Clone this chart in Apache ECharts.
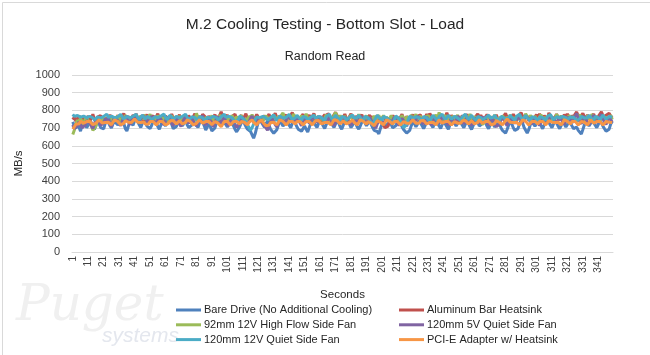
<!DOCTYPE html>
<html>
<head>
<meta charset="utf-8">
<script src="https://cdn.jsdelivr.net/npm/echarts@6/dist/echarts.min.js"></script>
<style>
html,body{margin:0;padding:0;background:#fff;}
#c{width:650px;height:355px;}
</style>
</head>
<body>
<div id="c"></div>
<script>
var seriesNames = [
  "Bare Drive (No Additional Cooling)",
  "Aluminum Bar Heatsink",
  "92mm 12V High Flow Side Fan",
  "120mm 5V Quiet Side Fan",
  "120mm 12V Quiet Side Fan",
  "PCI-E Adapter w/ Heatsink"
];
var seriesColors = ["#4F81BD", "#C0504D", "#9BBB59", "#8064A2", "#4BACC6", "#F79646"];

var bareDrive = [
735,712,698,721,706,683,715,741,728,702,
719,744,731,708,692,716,738,725,703,711,
696,727,748,733,714,701,723,739,745,718,
707,731,752,726,697,684,712,736,729,716,
741,758,737,719,704,728,747,733,711,722,
698,715,739,751,734,709,693,718,742,727,
712,736,756,741,722,697,686,709,733,748,
726,713,730,744,719,703,694,717,740,732,
716,704,729,751,738,714,689,699,723,708,
684,673,701,732,747,727,713,735,743,721,
706,723,741,736,712,692,679,683,708,729,
744,727,709,694,703,681,662,643,668,702,
731,748,733,719,705,726,738,714,693,682,
671,668,691,718,743,732,711,724,749,734,
716,702,727,743,728,707,692,703,683,687,
712,693,678,704,729,747,736,717,703,726,
744,731,712,698,721,739,753,736,718,704,
724,743,729,708,693,716,738,757,741,723,
703,717,739,727,707,694,712,733,748,731,
713,728,744,722,703,687,694,681,667,697,
721,738,726,708,716,739,731,702,691,713,
734,749,732,707,692,683,672,662,687,714,
738,726,707,722,744,734,713,697,716,738,
753,736,718,703,727,743,729,712,698,721,
739,731,708,693,717,738,748,729,712,726,
743,734,716,702,722,744,727,707,692,714,
738,752,734,712,701,726,743,731,711,697,
717,739,728,706,721,743,729,702,687,677,
672,692,718,738,724,702,687,676,697,723,
744,729,703,688,672,691,719,738,729,711,
726,743,734,712,697,719,739,752,733,716,
702,724,743,729,711,697,716,738,724,706,
721,743,734,712,697,691,706,687,676,666,
692,719,739,731,712,726,744,733,716,702,
721,743,729,711,696,682,671,694,723,738
];
var aluminumBar = [
748,761,739,755,772,744,758,736,763,751,
769,742,757,778,749,736,762,754,771,745,
733,758,767,744,776,752,738,761,749,773,
757,741,766,783,759,746,768,737,752,774,
762,781,756,743,769,751,739,764,777,748,
735,759,772,746,763,781,754,742,766,750,
771,747,738,762,779,755,741,767,753,776,
744,758,736,763,748,771,757,739,765,782,
758,745,769,752,778,787,761,743,768,754,
739,763,776,749,758,771,792,767,748,762,
774,751,742,766,758,779,746,737,761,773,
749,764,781,757,743,768,752,736,759,777,
762,746,733,758,771,747,764,779,752,740,
767,784,759,745,772,751,738,763,776,749,
757,773,788,764,747,769,756,741,765,779,
753,737,761,774,748,767,782,757,744,769,
752,738,764,777,758,783,769,746,761,775,
789,771,754,768,748,763,779,755,741,766,
781,758,744,769,753,738,762,776,751,767,
745,759,774,752,766,741,756,772,748,763,
736,718,702,693,711,738,757,771,754,766,
749,737,762,778,756,743,767,752,739,764,
776,753,741,768,759,774,748,736,761,779,
757,783,766,749,771,755,742,768,776,753,
739,764,786,762,748,773,757,744,769,758,
734,755,771,747,763,778,752,740,766,759,
745,769,781,758,774,752,739,763,777,761,
749,766,743,758,775,751,737,762,748,771,
783,761,747,768,754,779,763,741,757,772,
788,768,753,774,759,745,769,751,738,763,
777,754,781,762,748,771,757,742,786,769,
752,738,763,779,756,744,768,753,776,762,
781,759,746,772,758,779,791,767,754,771,
784,763,749,775,757,743,768,780,755,747,
766,779,792,771,756,773,762,784,769,758
];
var highFlowFan92 = [
664,688,723,746,731,755,738,722,749,762,
741,728,714,687,679,712,743,757,736,751,
763,742,729,756,768,747,733,759,744,771,
752,738,764,749,773,756,741,729,758,767,
744,762,735,751,769,748,776,753,739,763,
778,751,737,762,746,771,755,738,759,744,
766,749,731,757,772,746,763,739,752,768,
745,759,736,764,771,748,733,757,766,742,
784,761,747,769,752,738,763,749,731,756,
771,744,762,738,755,774,759,742,767,751,
736,761,748,772,753,739,766,745,758,773,
749,734,757,741,768,752,777,746,733,761,
769,747,764,738,756,771,748,762,737,754,
776,752,741,765,748,773,786,758,744,767,
752,738,764,779,747,761,735,757,771,746,
762,781,754,739,766,748,773,757,742,768,
749,765,738,754,777,751,736,762,749,771,
788,763,747,772,755,741,768,753,737,761,
774,748,763,739,756,778,752,766,743,757,
771,746,762,737,753,769,745,758,773,741,
756,772,749,764,738,755,771,747,762,751,
736,761,748,772,754,739,766,745,758,774,
747,763,779,752,741,768,749,735,762,756,
771,748,763,739,755,776,751,789,762,745,
758,773,747,764,738,753,769,746,761,774,
749,765,741,757,772,748,763,779,754,742,
767,751,739,763,745,721,712,738,757,749,
766,743,758,774,749,737,762,748,771,756,
741,764,752,776,748,763,738,757,771,746,
762,739,754,781,766,749,773,756,742,768,
753,738,762,776,748,764,741,757,772,746,
763,739,754,778,761,747,771,752,738,765,
749,773,758,742,767,751,736,762,777,748,
764,741,756,772,749,763,778,754,742,767,
752,738,761,776,748,765,741,757,772,749
];
var quietFan5V = [
718,697,689,712,736,721,702,694,717,743,
752,729,711,698,724,747,758,735,716,706,
729,754,742,763,725,708,737,759,767,744,
727,713,738,762,748,771,736,719,743,766,
774,752,737,726,749,772,781,758,741,729,
753,768,744,737,722,748,763,751,732,718,
742,766,749,771,728,714,738,757,741,723,
709,734,752,768,741,727,745,763,738,726,
712,739,761,747,772,729,716,738,756,741,
723,708,733,754,766,742,724,746,761,737,
728,713,739,758,742,721,704,698,727,751,
763,741,722,711,734,756,768,743,727,746,
762,771,748,728,714,701,688,712,737,752,
738,719,706,728,753,762,741,726,745,767,
776,751,733,722,744,761,748,729,713,738,
757,767,743,728,746,762,772,749,731,741,
766,776,752,734,723,745,763,748,729,714,
737,758,766,741,727,744,762,771,747,732,
716,738,757,743,726,745,767,778,753,736,
721,743,761,747,729,713,699,723,746,757,
738,721,739,757,768,743,726,745,762,748,
731,714,738,756,742,727,711,733,752,767,
748,732,749,768,776,752,734,722,743,762,
747,729,716,738,757,768,743,727,745,763,
771,748,731,717,739,758,742,724,746,767,
777,752,736,723,744,762,748,729,714,739,
758,767,742,726,745,763,773,749,731,716,
738,757,743,723,708,698,722,748,762,747,
729,714,739,757,766,742,726,744,762,772,
748,731,749,768,778,753,734,722,743,761,
747,728,716,738,758,768,742,727,744,767,
778,757,739,727,748,766,751,733,721,744,
762,772,748,729,747,768,783,759,738,724,
748,767,752,733,719,743,761,773,748,729,
747,766,778,752,734,721,744,762,748,733
];
var quietFan12V = [
778,766,757,771,779,762,753,768,774,759,
752,767,773,758,746,741,763,772,757,751,
766,774,779,761,752,768,773,759,748,762,
769,778,764,751,743,766,772,758,753,767,
774,779,761,748,759,773,762,751,766,775,
758,746,742,764,773,759,752,768,774,779,
761,747,758,773,762,749,741,766,772,758,
751,767,774,779,761,746,743,764,773,759,
752,742,765,773,758,747,738,761,772,757,
751,766,773,759,746,742,764,772,778,761,
752,767,774,758,746,732,721,748,768,773,
756,747,736,721,703,688,702,723,748,763,
773,759,751,767,774,758,746,738,759,768,
774,757,742,753,769,773,756,747,761,772,
778,762,748,738,759,773,761,752,743,766,
774,759,746,739,761,768,773,755,748,766,
773,758,751,743,765,774,779,761,747,759,
773,761,752,743,766,774,759,746,738,761,
768,774,756,748,761,773,759,751,742,766,
773,758,747,732,718,738,758,773,761,752,
743,766,773,758,751,742,733,722,748,768,
773,756,741,722,703,692,718,748,767,772,
756,747,764,773,759,751,742,766,772,758,
748,738,759,773,761,752,743,766,774,779,
761,747,759,773,762,751,741,766,772,758,
751,742,764,773,778,761,747,758,773,759,
752,743,766,773,759,747,738,758,768,774,
757,748,761,773,758,751,742,766,774,759,
747,738,759,773,761,752,743,766,772,778,
761,747,759,773,758,751,742,764,773,759,
748,742,764,773,759,751,743,766,772,777,
761,747,742,764,773,758,751,766,772,759,
747,742,763,773,761,752,743,733,753,767,
773,757,748,759,773,761,752,743,766,772,
759,747,758,773,762,751,743,766,772,761
];
var pcieAdapter = [
694,708,722,733,724,738,741,728,726,737,
746,738,727,719,716,728,736,747,738,729,
718,732,741,733,722,719,733,746,751,738,
727,719,714,727,742,746,733,723,732,741,
752,743,733,724,732,742,734,722,714,723,
737,746,738,728,718,727,737,747,738,727,
718,713,727,742,751,743,733,723,732,742,
733,723,718,732,747,751,738,728,718,714,
727,737,747,738,728,723,737,747,738,728,
719,727,737,742,728,718,708,722,737,747,
738,728,718,727,737,747,738,728,723,737,
742,733,723,718,732,742,747,733,723,718,
732,742,746,733,723,713,704,717,732,742,
733,723,718,732,747,752,738,728,718,727,
737,747,738,728,723,737,747,738,728,718,
727,737,747,738,728,718,727,742,752,743,
733,723,718,732,742,733,723,718,732,747,
756,743,733,723,732,742,733,723,718,732,
742,747,733,723,718,732,747,751,738,728,
723,737,742,728,718,713,727,742,747,733,
723,718,732,747,752,738,728,723,737,747,
738,728,718,727,737,742,728,718,727,737,
747,738,728,718,727,742,752,743,733,723,
718,732,742,733,723,718,732,747,738,728,
723,737,747,738,728,718,727,737,742,728,
718,727,742,752,743,733,723,732,742,733,
723,718,732,747,738,728,723,737,747,738,
728,718,713,727,742,747,733,723,718,732,
742,752,743,733,723,732,742,733,723,718,
732,747,752,738,728,718,727,737,747,738,
728,723,737,747,738,728,718,727,742,747,
733,723,732,742,733,723,718,732,747,752,
738,728,723,737,747,738,728,718,727,737,
742,733,723,718,732,747,738,728,723,737,
747,738,728,718,727,737,742,733,723,732
];
var seriesValues = [bareDrive, aluminumBar, highFlowFan92, quietFan5V, quietFan12V, pcieAdapter];

var seconds = [];
for (var i = 1; i <= bareDrive.length; i++) seconds.push(String(i));

var yTicks = { min: 0, max: 1000, interval: 100 };

var FONT = "'Liberation Sans', 'Noto Sans', sans-serif";

var chart = echarts.init(document.getElementById('c'));
var series = seriesNames.map(function (n, k) {
  return {
    name: n,
    type: 'line',
    data: seriesValues[k],
    showSymbol: false,
    symbol: 'none',
    lineStyle: { width: 3, color: seriesColors[k] },
    itemStyle: { color: seriesColors[k] },
    animation: false,
    z: 2 + k
  };
});

var legendCommon = {
  orient: 'vertical', top: 304, height: 60, padding: 0,
  itemWidth: 25, itemHeight: 3, itemGap: 2.8, icon: 'rect',
  textStyle: { fontFamily: FONT, fontSize: 11, color: '#262626', lineHeight: 12, padding: [0, 0, 0, -2] }
};

chart.setOption({
  animation: false,
  backgroundColor: '#ffffff',
  title: [
    { text: 'M.2 Cooling Testing - Bottom Slot - Load', left: 'center', top: 12,
      textStyle: { fontFamily: FONT, fontSize: 15.5, fontWeight: 'normal', color: '#262626' } },
    { text: 'Random Read', left: 'center', top: 45,
      textStyle: { fontFamily: FONT, fontSize: 12.5, fontWeight: 'normal', color: '#262626' } }
  ],
  grid: { left: 72, right: 37, top: 75, bottom: 103, containLabel: false },
  xAxis: {
    type: 'category',
    data: seconds,
    boundaryGap: true,
    name: 'Seconds',
    nameLocation: 'middle',
    nameGap: 37,
    nameTextStyle: { fontFamily: FONT, fontSize: 11.5, color: '#262626' },
    axisLine: { lineStyle: { color: '#d9d9d9' } },
    axisTick: { show: false },
    axisLabel: { interval: 9, rotate: 90, fontFamily: FONT, fontSize: 10, color: '#404040', margin: 4 },
    splitLine: { show: false }
  },
  yAxis: {
    type: 'value',
    min: yTicks.min, max: yTicks.max, interval: yTicks.interval,
    name: 'MB/s',
    nameLocation: 'middle',
    nameGap: 43,
    nameTextStyle: { fontFamily: FONT, fontSize: 11.5, color: '#262626' },
    axisLine: { show: false },
    axisTick: { show: false },
    axisLabel: { fontFamily: FONT, fontSize: 11, color: '#404040', margin: 12,
      formatter: function (v) { return String(v); } },
    splitLine: { lineStyle: { color: '#d9d9d9', width: 1 } }
  },
  legend: [
    Object.assign({ left: 176, data: [seriesNames[0], seriesNames[2], seriesNames[4]] }, legendCommon),
    Object.assign({ left: 399, data: [seriesNames[1], seriesNames[3], seriesNames[5]] }, legendCommon)
  ],
  graphic: [
    { type: 'rect', left: 0, top: 0, z: -1, silent: true,
      shape: { x: 0.5, y: 0.5, width: 649, height: 354 },
      style: { fill: null, stroke: '#d9d9d9', lineWidth: 1 } },
    { type: 'text', left: 16, top: 282, z: 0, silent: true,
      style: { text: 'Puget', font: 'italic 50px "DejaVu Serif", serif', fill: '#f0f0f0' } },
    { type: 'text', left: 102, top: 326, z: 0, silent: true,
      style: { text: 'systems', font: 'italic 21px "Liberation Sans", sans-serif', fill: '#e4e7ee' } }
  ],
  series: series
});
</script>
</body>
</html>
